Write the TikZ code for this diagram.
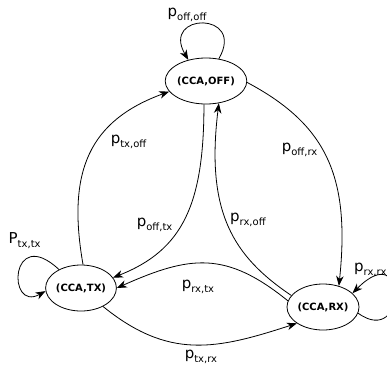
\documentclass[tikz,border=0pt]{standalone}
\usepackage{fontspec}
\setmainfont{DejaVu Sans}
\usetikzlibrary{arrows.meta,shapes.geometric}
\newcommand{\plab}[2]{{\fontsize{15}{15}\selectfont #1}\raisebox{-4pt}{\fontsize{10}{10}\selectfont #2}}
\begin{document}
\begin{tikzpicture}[x=1pt,y=1pt,
  state/.style={ellipse, draw, line width=0.8pt, inner sep=0pt, minimum height=46pt,
    font=\fontsize{10}{12}\selectfont\bfseries},
  trans/.style={-{Stealth[length=10pt,width=7.5pt,inset=3pt]}, line width=0.8pt},
  lab/.style={anchor=base west, inner sep=0pt}]
\useasboundingbox (0,0) rectangle (387,-372);
\clip (0,0) rectangle (387,-372);
\node[state, minimum width=76pt] (off) at (206,-81) {(CCA,OFF)};
\node[state, minimum width=60pt] (tx) at (81,-288) {(CCA,TX)};
\node[state, minimum width=66pt] (rx) at (323,-307) {(CCA,RX)};
% transitions
\draw[trans] (tx.85) to[out=100,in=200,out distance=95pt,in distance=85pt] (off.196);
\draw[trans] (off.265) to[out=270,in=21.5,out distance=100pt,in distance=75pt] (tx.18);
\draw[trans] (rx.160) to[out=146,in=263,out distance=70pt,in distance=110pt] (off.300);
\draw[trans] (off.358) to[out=-28,in=84,out distance=90pt,in distance=110pt] (rx.53);
\draw[trans] (rx.170) to[out=141,in=24,out distance=80pt,in distance=80pt] (tx.0);
\draw[trans] (tx.320) to[out=-39,in=198,out distance=85pt,in distance=85pt] (rx.212);
% self loops
\draw[trans] (off.60) to[out=60,in=120,distance=55pt] (off.130);
\draw[trans] (tx.140) to[out=137,in=209,out distance=67pt,in distance=44.5pt] (tx.185);
\draw[trans] (rx.350) to[out=-35.8,in=45.3,out distance=60.4pt,in distance=80.3pt] (rx.25);
% labels
\node[lab] (loffoff) at (167.5,-16.5) {\plab{p}{off,off}};
\node[lab] (ltxoff) at (110.6,-143) {\plab{p}{tx,off}};
\node[lab] (lofftx) at (136.6,-226) {\plab{p}{off,tx}};
\node[lab] (lrxoff) at (230,-221) {\plab{p}{rx,off}};
\node[lab] (loffrx) at (281.6,-151) {\plab{p}{off,rx}};
\node[lab] (lrxtx) at (181.6,-288) {\plab{p}{rx,tx}};
\node[lab] (ltxrx) at (184.6,-358) {\plab{p}{tx,rx}};
\node[lab] (ltxtx) at (8.5,-243) {\plab{P}{tx,tx}};
\node[lab] (lrxrx) at (354,-271) {\plab{p}{rx,rx}};
\end{tikzpicture}
\end{document}
